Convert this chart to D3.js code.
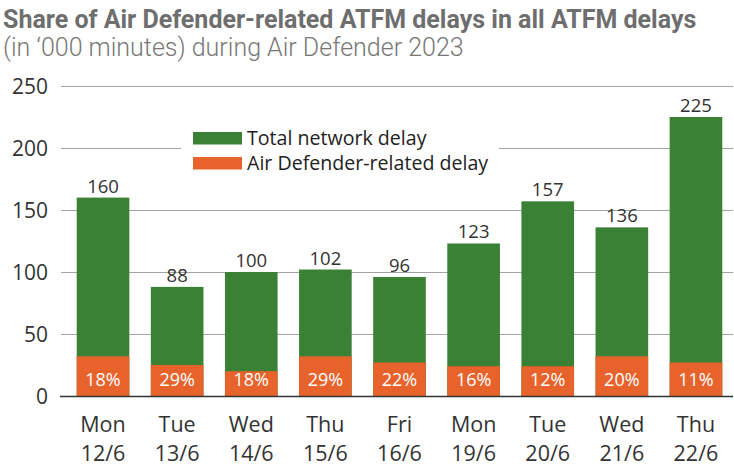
<!DOCTYPE html>
<html>
<head>
<meta charset="utf-8">
<script src="https://cdn.jsdelivr.net/npm/d3@7/dist/d3.min.js"></script>
<style>
html,body{margin:0;padding:0;background:#fff;}
svg{display:block;}
</style>
</head>
<body>
<svg id="chart" width="734" height="470"></svg>
<script>
const days = ["Mon","Tue","Wed","Thu","Fri","Mon","Tue","Wed","Thu"];
const dates = ["12/6","13/6","14/6","15/6","16/6","19/6","20/6","21/6","22/6"];
const totalDelay = [160, 88, 100, 102, 96, 123, 157, 136, 225];
const airDefenderDelay = [32, 25, 20, 32, 27, 24, 24, 32, 27];
const shareLabels = ["18%","29%","18%","29%","22%","16%","12%","20%","11%"];
const yTicks = [0, 50, 100, 150, 200, 250];
const legendLabels = ["Total network delay", "Air Defender-related delay"];

const GREEN = "#3a8135", ORANGE = "#e8632b";
const svg = d3.select("#chart");
const left = 61, right = 738, y0 = 396, y1 = 86;

const cats = days.map((d,i)=>i);
const x = d3.scaleBand().domain(cats).range([left, right]).paddingInner(0.29).paddingOuter(0.212);
const y = d3.scaleLinear().domain([0, 250]).range([y0, y1]);

const sans = "'Open Sans', 'Noto Sans', sans-serif";

// title
svg.append("text").attr("x", 3).attr("y", 28)
  .attr("font-family", "Roboto, sans-serif").attr("font-weight", 700)
  .attr("font-size", 25).attr("fill", "#6e6e6e")
  .text("Share of Air Defender-related ATFM delays in all ATFM delays");
svg.append("text").attr("x", 3).attr("y", 56)
  .attr("font-family", "Roboto, sans-serif").attr("font-weight", 300)
  .attr("font-size", 25).attr("fill", "#777")
  .text("(in \u2018000 minutes) during Air Defender 2023");

// gridlines
svg.append("g").selectAll("line").data(yTicks.filter(t=>t>0)).join("line")
  .attr("x1", left).attr("x2", 733)
  .attr("y1", d=>Math.round(y(d))+0.5).attr("y2", d=>Math.round(y(d))+0.5)
  .attr("stroke", "#a3a3a3").attr("stroke-width", 1);

// y axis labels
const yAxis = d3.axisLeft(y).tickValues(yTicks).tickSize(0).tickPadding(0);
const ya = svg.append("g").attr("transform", `translate(48,0)`).call(yAxis);
ya.select(".domain").remove();
ya.selectAll("text").attr("font-family", sans).attr("font-size", 21).attr("fill", "#333").attr("dy", "0.35em");

// legend (white background hides gridline)
const lg = svg.append("g");
lg.append("rect").attr("x", 181).attr("y", 122).attr("width", 318).attr("height", 54).attr("fill", "#fff");
legendLabels.forEach((lab, i) => {
  lg.append("rect").attr("x", 193).attr("y", 132 + i*25).attr("width", 49).attr("height", 12.5)
    .attr("fill", i===0 ? GREEN : ORANGE);
  lg.append("text").attr("x", 247).attr("y", 145 + i*25)
    .attr("font-family", sans).attr("font-size", 19.6).attr("fill", "#222").text(lab);
});

// bars
const g = svg.append("g");
g.selectAll("rect.total").data(cats).join("rect").attr("class","total")
  .attr("x", i=>x(i)).attr("width", x.bandwidth())
  .attr("y", i=>y(totalDelay[i])).attr("height", i=>y(0)-y(totalDelay[i]))
  .attr("fill", GREEN);
g.selectAll("rect.ad").data(cats).join("rect").attr("class","ad")
  .attr("x", i=>x(i)).attr("width", x.bandwidth())
  .attr("y", i=>y(airDefenderDelay[i])).attr("height", i=>y(0)-y(airDefenderDelay[i]))
  .attr("fill", ORANGE);

// value labels
g.selectAll("text.val").data(cats).join("text").attr("class","val")
  .attr("x", i=>x(i)+x.bandwidth()/2).attr("y", i=>y(totalDelay[i]) - 5)
  .attr("text-anchor","middle").attr("font-family", sans).attr("font-size", 18.5).attr("fill", "#333")
  .text(i=>totalDelay[i]);
// share labels
g.selectAll("text.pct").data(cats).join("text").attr("class","pct")
  .attr("x", i=>x(i)+x.bandwidth()/2).attr("y", 386)
  .attr("text-anchor","middle").attr("font-family", sans).attr("font-size", 18).attr("fill", "#fff")
  .text(i=>shareLabels[i]);

// baseline
svg.append("line").attr("x1", 60).attr("x2", 733).attr("y1", y0+0.5).attr("y2", y0+0.5)
  .attr("stroke", "#333").attr("stroke-width", 1.6);

// x axis labels
const xa = svg.append("g");
xa.selectAll("text.day").data(cats).join("text").attr("class","day")
  .attr("x", i=>x(i)+x.bandwidth()/2).attr("y", 432)
  .attr("text-anchor","middle").attr("font-family", sans).attr("font-size", 21.5).attr("fill", "#333")
  .text(i=>days[i]);
xa.selectAll("text.date").data(cats).join("text").attr("class","date")
  .attr("x", i=>x(i)+x.bandwidth()/2).attr("y", 461)
  .attr("text-anchor","middle").attr("font-family", sans).attr("font-size", 21.5).attr("fill", "#333")
  .text(i=>dates[i]);
</script>
</body>
</html>
